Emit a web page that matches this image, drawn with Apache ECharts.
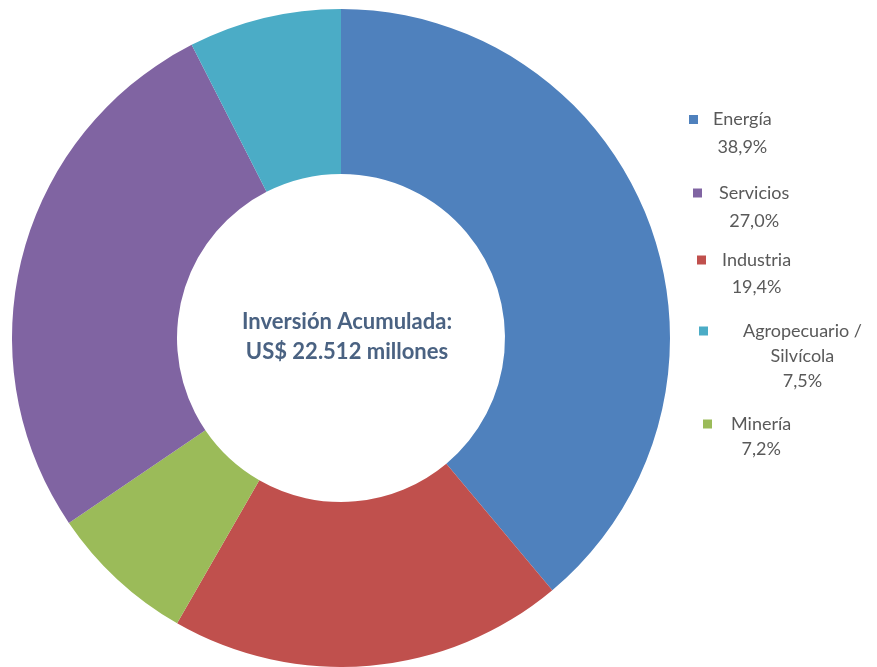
<!DOCTYPE html>
<html>
<head>
<meta charset="utf-8">
<script src="https://cdn.jsdelivr.net/npm/echarts@6/dist/echarts.min.js"></script>
<style>html,body{margin:0;padding:0;background:#fff;}#c{width:877px;height:667px;}</style>
</head>
<body>
<div id="c"></div>
<script>
// Data (clockwise from 12 o'clock)
const categories = ['Energía', 'Industria', 'Minería', 'Servicios', 'Agropecuario / Silvícola'];
const values = [38.9, 19.4, 7.2, 27.0, 7.5];
const percentLabels = ['38,9%', '19,4%', '7,2%', '27,0%', '7,5%'];
const legendOrder = ['Energía', 'Servicios', 'Industria', 'Agropecuario / Silvícola', 'Minería'];
const centerLines = ['Inversión Acumulada:', 'US$ 22.512 millones'];

// Layout / style
const colors = ['#4F81BD', '#C0504D', '#9BBB59', '#8064A2', '#4BACC6'];
const FONT = 'Lato';
const FS = 18;
// marker left x, marker center y, extra text offset, line height
const legendLayout = {
  'Energía': [689, 118.5, 10, 28],
  'Servicios': [693, 192, 12, 28],
  'Industria': [697, 259, 11, 27],
  'Agropecuario / Silvícola': [699, 330, 30, 25],
  'Minería': [703, 423, 14, 25]
};
const MK = 9;

function nameLines(name) {
  return name.replace(' / ', ' /\n').split('\n');
}

const legends = legendOrder.map(function (name) {
  const idx = categories.indexOf(name);
  const lay = legendLayout[name];
  const lines = nameLines(name).concat([percentLabels[idx]]);
  const n = lines.length;
  const L = lay[3];
  return {
    show: true,
    orient: 'vertical',
    left: lay[0],
    top: lay[1] - 8,
    padding: 0,
    itemWidth: MK,
    itemHeight: MK,
    icon: 'rect',
    selectedMode: false,
    data: [name],
    formatter: function () {
      return lines.map(function (l) { return '{t|' + l + '}'; }).join('\n');
    },
    textStyle: {
      padding: [(n - 1) * L, 0, 0, lay[2]],
      rich: {
        t: {
          fontFamily: FONT,
          fontSize: FS,
          color: '#595959',
          lineHeight: L,
          align: 'center'
        }
      }
    }
  };
});

const chart = echarts.init(document.getElementById('c'), null, { renderer: 'canvas' });
chart.setOption({
  animation: false,
  color: colors,
  title: {
    text: centerLines.join('\n'),
    left: 347,
    top: 307,
    textAlign: 'center',
    padding: 0,
    textStyle: {
      fontFamily: FONT,
      fontSize: 22,
      fontWeight: 'bold',
      color: '#4A6282',
      lineHeight: 30
    }
  },
  legend: legends,
  series: [{
    type: 'pie',
    center: [341, 338],
    radius: [164, 329],
    startAngle: 90,
    clockwise: true,
    silent: true,
    avoidLabelOverlap: false,
    label: { show: false },
    labelLine: { show: false },
    itemStyle: { borderWidth: 0 },
    data: categories.map(function (c, i) { return { name: c, value: values[i] }; })
  }]
});
</script>
</body>
</html>
